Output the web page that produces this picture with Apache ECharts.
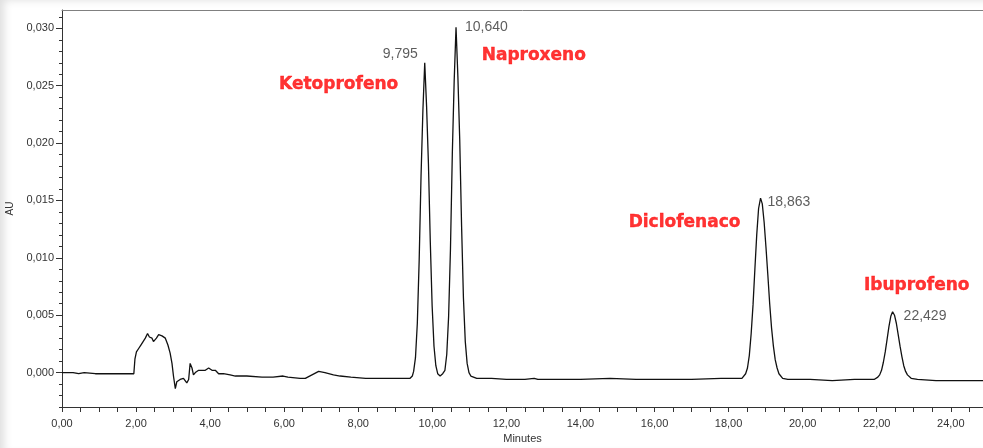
<!DOCTYPE html>
<html>
<head>
<meta charset="utf-8">
<script src="https://cdn.jsdelivr.net/npm/echarts@6/dist/echarts.min.js"></script>
<style>
  html, body { margin: 0; padding: 0; background: #fff; }
  .frame {
    width: 983px;
    height: 448px;
    box-shadow: inset 7px 3px 8px -3px rgba(0, 0, 0, 0.13);
  }
  #chart { width: 983px; height: 448px; }
</style>
</head>
<body>
<div class="frame"><div id="chart"></div></div>
<script>
// chromatogram trace: [minutes, AU]
var baselineStart = [
  [0.00, 0.0000], [0.30, 0.0000], [0.45, -0.0001], [0.60, 0.0000], [0.90, -0.0001],
  [1.20, -0.0001], [1.50, -0.0001], [1.80, -0.0001], [1.94, -0.0001]
]
var injectionZone = [
  [1.97, 0.0012], [2.01, 0.0018], [2.07, 0.0021], [2.13, 0.0024], [2.19, 0.0027],
  [2.25, 0.0030], [2.31, 0.0034], [2.36, 0.0031], [2.43, 0.0030], [2.47, 0.0027],
  [2.55, 0.0030], [2.61, 0.0033], [2.70, 0.0032], [2.79, 0.0030], [2.86, 0.0024],
  [2.92, 0.0017], [2.97, 0.0008], [3.01, -0.0003], [3.06, -0.0014], [3.10, -0.0008],
  [3.19, -0.0006], [3.28, -0.0005], [3.37, -0.0009], [3.42, -0.0006], [3.46, 0.0008],
  [3.51, 0.0004], [3.55, -0.0002], [3.60, 0.0000], [3.69, 0.0002], [3.87, 0.0002],
  [3.96, 0.0004], [4.05, 0.0002], [4.14, 0.0002], [4.23, -0.0001], [4.36, -0.0001],
  [4.54, -0.0002], [4.68, -0.0003], [4.81, -0.0003], [4.99, -0.0003], [5.40, -0.0004],
  [5.70, -0.0004], [5.97, -0.0003], [6.10, -0.0004], [6.43, -0.0005], [6.57, -0.0005],
  [6.75, -0.0002], [6.93, 0.0001], [7.10, 0.0000], [7.33, -0.0002], [7.51, -0.0003],
  [7.80, -0.0004], [8.20, -0.0005], [8.60, -0.0005], [9.00, -0.0005], [9.40, -0.0005]
]
var ketoNaproPeaks = [
  [9.46, -0.0003], [9.495, 0.0001], [9.545, 0.0013], [9.595, 0.0043], [9.645, 0.0098],
  [9.695, 0.0171], [9.745, 0.0228], [9.795, 0.0270], [9.845, 0.0232], [9.895, 0.0182],
  [9.945, 0.0114], [9.995, 0.0058], [10.045, 0.0023], [10.095, 0.0006], [10.145, -0.0001],
  [10.21, -0.0003], [10.28, -0.0001], [10.34, 0.0002], [10.39, 0.0016], [10.44, 0.0049],
  [10.49, 0.0108], [10.54, 0.0191], [10.59, 0.0254], [10.64, 0.0301], [10.69, 0.0258],
  [10.74, 0.0203], [10.79, 0.0128], [10.84, 0.0065], [10.89, 0.0027], [10.94, 0.0008],
  [10.99, 0.0000], [11.04, -0.0003], [11.20, -0.0005], [11.60, -0.0005], [12.00, -0.0006],
  [12.50, -0.0006], [12.75, -0.0005], [12.80, -0.0005], [12.85, -0.0006], [13.30, -0.0006],
  [14.00, -0.0006], [14.80, -0.0005], [15.50, -0.0006], [16.20, -0.0006], [17.00, -0.0006],
  [17.80, -0.0005], [18.36, -0.0005]
]
var diclofenacoPeak = [
  [18.46, -0.0001], [18.51, 0.0004], [18.56, 0.0015], [18.61, 0.0034], [18.66, 0.0059],
  [18.71, 0.0090], [18.76, 0.0120], [18.81, 0.0143], [18.863, 0.0152], [18.91, 0.0147],
  [18.96, 0.0131], [19.01, 0.0109], [19.06, 0.0085], [19.11, 0.0060], [19.16, 0.0039],
  [19.21, 0.0023], [19.26, 0.0011], [19.31, 0.0004], [19.36, -0.0001], [19.46, -0.0005],
  [19.60, -0.0006], [20.20, -0.0006], [20.80, -0.0007], [21.40, -0.0006], [21.93, -0.0006]
]
var ibuprofenoPeak = [
  [22.03, -0.0004], [22.08, -0.0002], [22.13, 0.0002], [22.18, 0.0009], [22.23, 0.0018],
  [22.28, 0.0029], [22.33, 0.0040], [22.38, 0.0049], [22.429, 0.0053], [22.48, 0.0050],
  [22.53, 0.0043], [22.58, 0.0033], [22.63, 0.0023], [22.68, 0.0014], [22.73, 0.0006],
  [22.78, 0.0001], [22.83, -0.0002], [22.93, -0.0005], [23.10, -0.0006], [23.60, -0.0007],
  [24.20, -0.0007], [24.87, -0.0007]
]

// peaks
var peakNames = ['Ketoprofeno', 'Naproxeno', 'Diclofenaco', 'Ibuprofeno']
var retentionTimes = [9.795, 10.640, 18.863, 22.429]
var peakHeights = [0.0270, 0.0301, 0.0152, 0.0053]
// where the red names sit, in minutes / AU
var nameMinutes = [7.47, 12.74, 16.81, 23.08]
var nameAU = [0.0251, 0.0276, 0.0131, 0.0076]

// axes
var xLabelTicks = [0, 2, 4, 6, 8, 10, 12, 14, 16, 18, 20, 22, 24]
var xMinorTicks = [0, 0.5, 1, 1.5, 2, 2.5, 3, 3.5, 4, 4.5, 5, 5.5, 6, 6.5, 7, 7.5, 8, 8.5,
  9, 9.5, 10, 10.5, 11, 11.5, 12, 12.5, 13, 13.5, 14, 14.5, 15, 15.5, 16, 16.5, 17, 17.5,
  18, 18.5, 19, 19.5, 20, 20.5, 21, 21.5, 22, 22.5, 23, 23.5, 24, 24.5]
var yLabelTicks = [0, 0.005, 0.010, 0.015, 0.020, 0.025, 0.030]
var yMinorTicks = [-0.003, -0.002, -0.001, 0, 0.001, 0.002, 0.003, 0.004, 0.005, 0.006,
  0.007, 0.008, 0.009, 0.010, 0.011, 0.012, 0.013, 0.014, 0.015, 0.016, 0.017, 0.018,
  0.019, 0.020, 0.021, 0.022, 0.023, 0.024, 0.025, 0.026, 0.027, 0.028, 0.029, 0.030, 0.031]

var trace = baselineStart.concat(injectionZone, ketoNaproPeaks, diclofenacoPeak, ibuprofenoPeak)

var axisFont = '"Liberation Sans", Arial, sans-serif'
var axisColor = '#333'
var X_MAX = 24.87
var Y_MIN = -0.003
var Y_MAX = 0.0316

function comma (v, d) {
  return v.toFixed(d).replace('.', ',')
}

// retention time labels: offset from the apex, per peak
var rtLabelPos = [
  { position: [-7, -9], align: 'right' },
  { position: [9, 0], align: 'left' },
  { position: [7, 4], align: 'left' },
  { position: [11, 4], align: 'left' }
]

var rtData = retentionTimes.map(function (t, i) {
  return {
    value: [t, peakHeights[i]],
    label: {
      position: rtLabelPos[i].position,
      align: rtLabelPos[i].align
    }
  }
})
var nameData = peakNames.map(function (n, i) {
  return { name: n, value: [nameMinutes[i], nameAU[i]] }
})

var myChart = echarts.init(document.getElementById('chart'))
var option = {
  animation: false,
  grid: { left: 62, right: 0, top: 10, bottom: 41, containLabel: false, outerBoundsMode: 'none' },
  xAxis: [{
    type: 'value',
    min: 0,
    max: X_MAX,
    name: 'Minutes',
    nameLocation: 'middle',
    nameGap: 25,
    nameTextStyle: { fontFamily: axisFont, fontSize: 11, color: axisColor },
    axisLine: { onZero: false, lineStyle: { color: '#333', width: 1 } },
    axisTick: { show: true, length: 5, customValues: xMinorTicks, lineStyle: { color: '#333' } },
    axisLabel: {
      customValues: xLabelTicks,
      margin: 11,
      fontFamily: axisFont,
      fontSize: 11,
      color: axisColor,
      formatter: function (v) { return comma(v, 2) }
    },
    splitLine: { show: false }
  }, {
    // top frame line
    type: 'value',
    position: 'top',
    min: 0,
    max: X_MAX,
    axisLine: { onZero: false, lineStyle: { color: '#808080', width: 1 } },
    axisTick: { show: false },
    axisLabel: { show: false },
    splitLine: { show: false }
  }],
  yAxis: [{
    type: 'value',
    min: Y_MIN,
    max: Y_MAX,
    name: 'AU',
    nameLocation: 'middle',
    nameGap: 36,
    nameTextStyle: { fontFamily: axisFont, fontSize: 10, color: axisColor },
    axisLine: { show: true, onZero: false, lineStyle: { color: '#333', width: 1 } },
    axisTick: { show: true, length: 6, customValues: yLabelTicks, lineStyle: { color: '#333' } },
    axisLabel: {
      customValues: yLabelTicks,
      margin: 8,
      fontFamily: axisFont,
      fontSize: 11,
      color: axisColor,
      formatter: function (v) { return comma(v, 3) }
    },
    splitLine: { show: false }
  }, {
    // minor ticks every 0.001
    type: 'value',
    position: 'left',
    min: Y_MIN,
    max: Y_MAX,
    axisLine: { show: false, onZero: false },
    axisTick: { show: true, length: 3, customValues: yMinorTicks, lineStyle: { color: '#333' } },
    axisLabel: { show: false },
    splitLine: { show: false }
  }],
  series: [{
    name: 'trace',
    type: 'line',
    data: trace,
    showSymbol: false,
    smooth: false,
    lineStyle: { color: '#111', width: 1.3 },
    z: 3
  }, {
    name: 'rt',
    type: 'scatter',
    data: rtData,
    symbolSize: 0,
    silent: true,
    label: {
      show: true,
      verticalAlign: 'middle',
      fontFamily: '"Liberation Sans", Arial, sans-serif',
      fontSize: 14,
      color: '#333',
      formatter: function (p) { return comma(p.value[0], 3) }
    },
    z: 4
  }, {
    name: 'names',
    type: 'scatter',
    data: nameData,
    symbolSize: 0,
    silent: true,
    label: {
      show: true,
      position: 'inside',
      align: 'center',
      verticalAlign: 'middle',
      fontFamily: '"DejaVu Sans", Verdana, sans-serif',
      fontWeight: 'bold',
      fontSize: 17,
      color: '#ff0000',
      textBorderColor: '#ff0000',
      textBorderWidth: 0.4,
      formatter: function (p) { return p.name }
    },
    z: 4
  }]
}
myChart.setOption(option)
</script>
</body>
</html>
